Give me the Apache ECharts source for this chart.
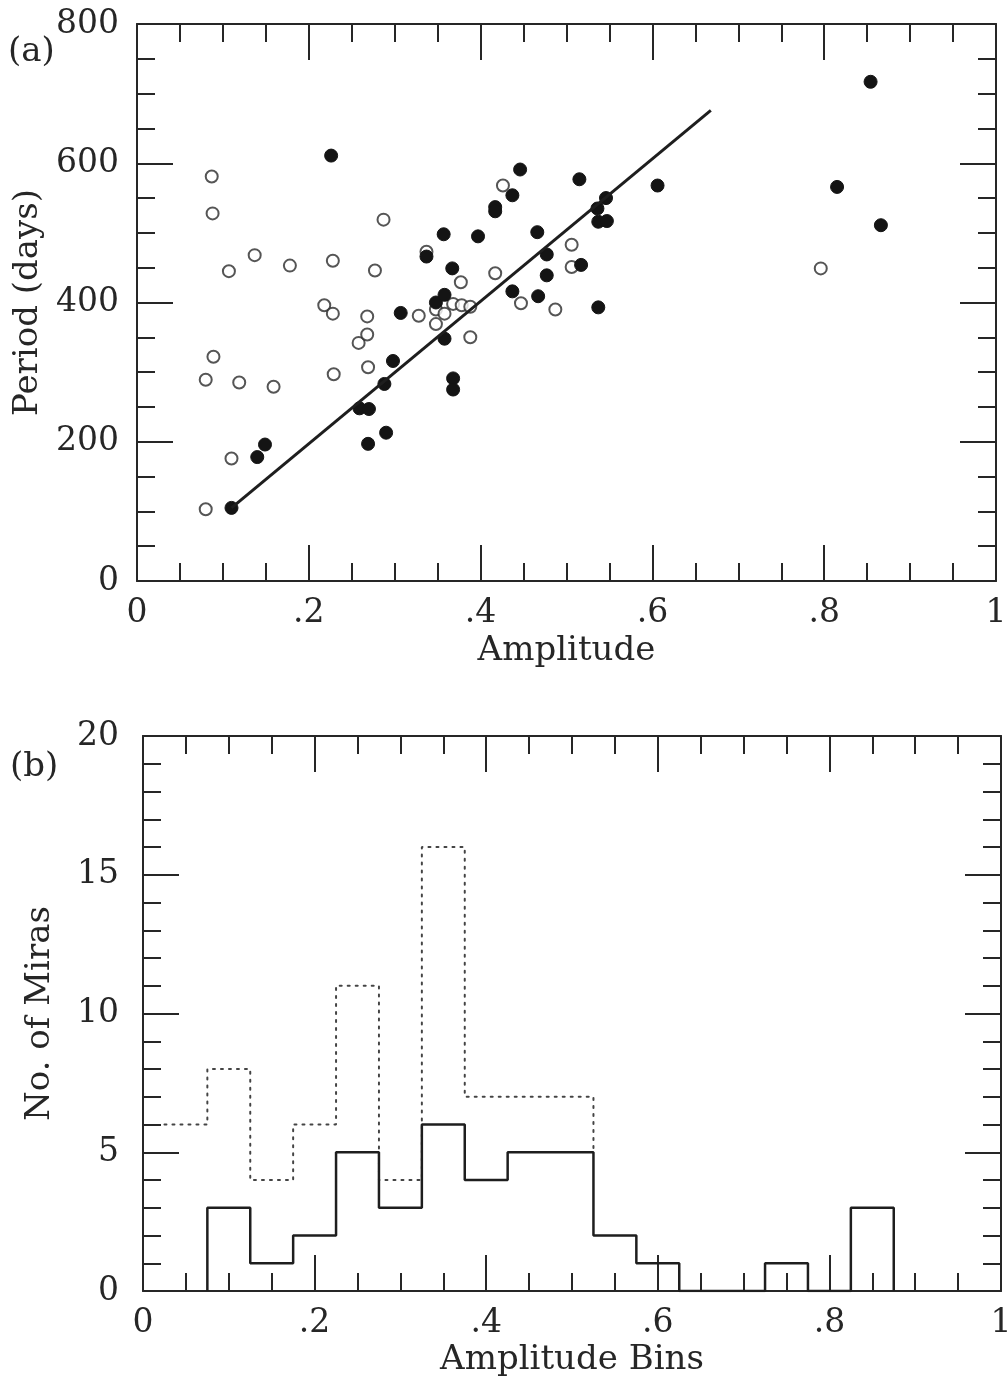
<!DOCTYPE html>
<html>
<head>
<meta charset="utf-8">
<script src="https://cdn.jsdelivr.net/npm/echarts@6/dist/echarts.min.js"></script>
<style>
html,body{margin:0;padding:0;background:#fff;}
#chart{width:1008px;height:1383px;}
</style>
</head>
<body>
<div id="chart"></div>
<script>
// ---- Panel (a): Period vs Amplitude ----
const openAmp    = [0.087,0.088,0.107,0.089,0.080,0.119,0.110,0.080,0.137,0.159,0.178,0.218,0.228,0.228,0.229,0.258,0.268,0.268,0.269,0.277,0.287,0.328,0.337,0.348,0.348,0.358,0.368,0.378,0.388,0.377,0.388,0.417,0.426,0.447,0.487,0.506,0.506,0.796];
const openPeriod = [581,528,445,322,289,285,176,103,468,279,453,396,384,460,297,342,354,380,307,446,519,381,473,390,369,384,398,396,394,429,350,442,568,399,390,483,451,449];
const filledAmp    = [0.110,0.140,0.149,0.226,0.259,0.270,0.269,0.290,0.288,0.298,0.307,0.337,0.348,0.358,0.358,0.357,0.367,0.368,0.368,0.397,0.417,0.417,0.437,0.446,0.437,0.466,0.467,0.477,0.477,0.515,0.517,0.537,0.546,0.536,0.537,0.547,0.606,0.815,0.854,0.866];
const filledPeriod = [105,178,196,611,248,247,197,213,283,316,385,466,400,411,348,498,449,291,275,495,537,531,554,591,416,501,409,469,439,577,454,393,550,535,516,517,568,566,717,511];
const fitAmp    = [0.110, 0.668];
const fitPeriod = [105, 676];

// ---- Panel (b): histogram of amplitude bins ----
const solidEdges  = [0.075,0.125,0.175,0.225,0.275,0.325,0.375,0.425,0.475,0.525,0.575,0.625,0.675,0.725,0.775,0.825,0.875];
const solidCounts = [3,1,2,5,3,6,4,5,5,2,1,0,0,1,0,3];
const dottedEdges  = [0.025,0.075,0.125,0.175,0.225,0.275,0.325,0.375,0.425,0.475,0.525];
const dottedCounts = [6,8,4,6,11,4,16,7,7,7];

function zip(a, b){ return a.map((v,i)=>[v, b[i]]); }
function stepFromZero(edges, counts){
  const pts = [[edges[0], 0]];
  counts.forEach((c,i)=>{ pts.push([edges[i], c]); pts.push([edges[i+1], c]); });
  pts.push([edges[edges.length-1], 0]);
  return pts;
}
function stepOpen(edges, counts, endVal){
  const pts = [];
  counts.forEach((c,i)=>{ pts.push([edges[i], c]); pts.push([edges[i+1], c]); });
  pts.push([edges[edges.length-1], endVal]);
  return pts;
}
const solidStep = stepFromZero(solidEdges, solidCounts);
const dottedEndVal = solidCounts[solidEdges.indexOf(dottedEdges[dottedEdges.length-1]) - 1];
const dottedStep = stepOpen(dottedEdges, dottedCounts, dottedEndVal);

const FONT = 'DejaVu Serif';
const INK = '#262626';
const TICKFS = 33, NAMEFS = 34;
const fmtX = v => { const s = String(+(+v).toFixed(2)); return s.replace(/^0\./, '.'); };

function xAxisPair(gridIndex, name, labelMargin, nameGap){
  const tickCommon = {
    type: 'value', min: 0, max: 1, interval: 0.2, gridIndex,
    axisLine: {show: true, onZero: false, lineStyle: {color: INK, width: 2}},
    axisTick: {show: true, inside: true, length: 36, lineStyle: {color: INK, width: 2}},
    minorTick: {show: true, splitNumber: 4, length: 18, lineStyle: {color: INK, width: 2}},
    splitLine: {show: false}, minorSplitLine: {show: false}
  };
  return [
    Object.assign({}, tickCommon, {
      position: 'bottom', name, nameLocation: 'middle', nameGap,
      nameTextStyle: {fontFamily: FONT, fontSize: NAMEFS, color: INK},
      axisLabel: {show: true, margin: labelMargin, fontFamily: FONT, fontSize: TICKFS, color: INK,
        showMinLabel: true, showMaxLabel: true, formatter: fmtX}
    }),
    Object.assign({}, tickCommon, {position: 'top', axisLabel: {show: false}})
  ];
}
function yAxisPair(gridIndex, max, interval, minorSplit, name, labelMargin, nameGap){
  const tickCommon = {
    type: 'value', min: 0, max, interval, gridIndex,
    axisLine: {show: true, onZero: false, lineStyle: {color: INK, width: 2}},
    axisTick: {show: true, inside: true, length: 36, lineStyle: {color: INK, width: 2}},
    minorTick: {show: true, splitNumber: minorSplit, length: 18, lineStyle: {color: INK, width: 2}},
    splitLine: {show: false}, minorSplitLine: {show: false}
  };
  return [
    Object.assign({}, tickCommon, {
      position: 'left', name, nameLocation: 'middle', nameGap,
      nameTextStyle: {fontFamily: FONT, fontSize: NAMEFS, color: INK},
      axisLabel: {show: true, margin: labelMargin, fontFamily: FONT, fontSize: TICKFS, color: INK,
        showMinLabel: true, showMaxLabel: true}
    }),
    Object.assign({}, tickCommon, {position: 'right', axisLabel: {show: false}})
  ];
}

const xa = xAxisPair(0, 'Amplitude', 16, 53);
const xb = xAxisPair(1, 'Amplitude Bins', 16, 52);
const ya = yAxisPair(0, 800, 200, 4, 'Period (days)', 18, 88);
const yb = yAxisPair(1, 20, 5, 5, 'No. of Miras', 24, 86);

const option = {
  animation: false,
  backgroundColor: '#ffffff',
  grid: [
    {left: 137, right: 12, top: 24, height: 557, outerBoundsMode: 'none', containLabel: false},
    {left: 143, right: 7, top: 736, height: 555, outerBoundsMode: 'none', containLabel: false}
  ],
  xAxis: [xa[0], xa[1], xb[0], xb[1]],
  yAxis: [ya[0], ya[1], yb[0], yb[1]],
  graphic: [
    {type: 'text', left: 8, top: 35, style: {text: '(a)', font: '34px "DejaVu Serif"', fill: INK}},
    {type: 'text', left: 10, top: 750, style: {text: '(b)', font: '34px "DejaVu Serif"', fill: INK}}
  ],
  series: [
    {type: 'scatter', xAxisIndex: 0, yAxisIndex: 0, data: zip(openAmp, openPeriod),
      symbol: 'circle', symbolSize: 12,
      itemStyle: {color: '#ffffff', borderColor: '#2a2a2a', borderWidth: 2}, z: 3},
    {type: 'scatter', xAxisIndex: 0, yAxisIndex: 0, data: zip(filledAmp, filledPeriod),
      symbol: 'circle', symbolSize: 13,
      itemStyle: {color: '#141414', borderColor: '#141414', borderWidth: 1, opacity: 1}, z: 4},
    {type: 'line', xAxisIndex: 0, yAxisIndex: 0, data: zip(fitAmp, fitPeriod),
      showSymbol: false, symbol: 'none', lineStyle: {color: '#1e1e1e', width: 3}, z: 5},
    {type: 'line', xAxisIndex: 2, yAxisIndex: 2, data: dottedStep,
      showSymbol: false, symbol: 'none',
      lineStyle: {color: '#444', width: 2, type: [2, 6], cap: 'round'}, z: 3},
    {type: 'line', xAxisIndex: 2, yAxisIndex: 2, data: solidStep,
      showSymbol: false, symbol: 'none',
      lineStyle: {color: '#1e1e1e', width: 2.5}, z: 4}
  ]
};

const chart = echarts.init(document.getElementById('chart'), null, {renderer: 'canvas'});
chart.setOption(option);
</script>
</body>
</html>
